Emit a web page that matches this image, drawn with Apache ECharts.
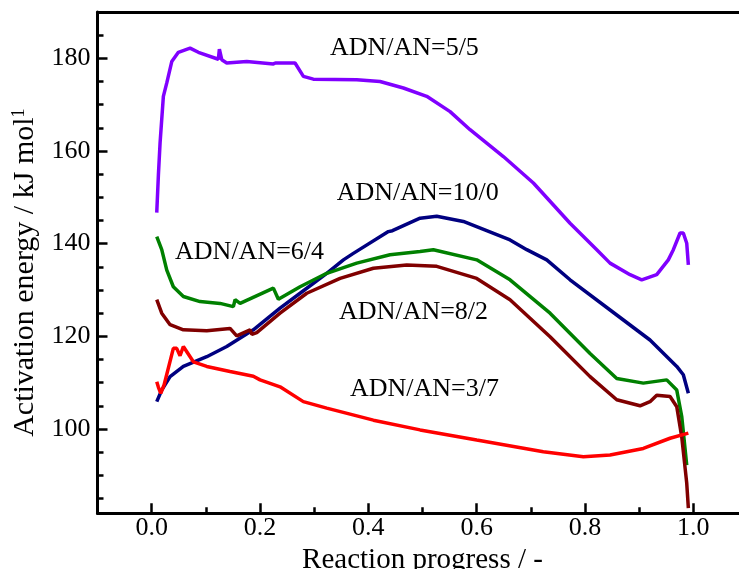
<!DOCTYPE html>
<html>
<head>
<meta charset="utf-8">
<script src="https://cdn.jsdelivr.net/npm/echarts@6/dist/echarts.min.js"></script>
<style>html,body{margin:0;padding:0;background:#fff}#c{width:739px;height:569px}</style>
</head>
<body>
<div id="c"></div>
<script>
// ---- data (x = reaction progress, y = activation energy kJ/mol) ----
const xMajorTicks = [0, 0.2, 0.4, 0.6, 0.8, 1.0];
const xMinorTicks = [0.1, 0.3, 0.5, 0.7, 0.9];
const yMajorTicks = [100, 120, 140, 160, 180];
const yMinorTicks = [85, 90, 95, 105, 110, 115, 125, 130, 135, 145, 150, 155, 165, 170, 175, 185];

const seriesNames = ['ADN/AN=5/5', 'ADN/AN=10/0', 'ADN/AN=6/4', 'ADN/AN=8/2', 'ADN/AN=3/7'];

const adn55 = [[0.0094,146.7],[0.0125,155],[0.0155,161.7],[0.0216,171.8],[0.0279,174.7],[0.0371,179.3],[0.0493,181.3],[0.0709,182.2],[0.0862,181.3],[0.1231,179.8],[0.125,182.0],[0.1294,179.7],[0.1386,179.0],[0.1756,179.3],[0.2247,178.8],[0.2284,179.0],[0.2647,179.0],[0.2801,176.1],[0.2985,175.5],[0.3786,175.4],[0.4216,175.0],[0.4647,173.6],[0.5078,171.8],[0.5509,168.5],[0.5878,164.6],[0.6493,158.8],[0.7047,153.1],[0.7724,144.4],[0.8217,138.7],[0.8462,135.8],[0.8832,133.3],[0.9047,132.2],[0.9324,133.3],[0.9538,136.5],[0.9631,138.7],[0.9755,142.3],[0.9815,142.3],[0.9878,140.1],[0.9908,135.4]];

const adn100 = [[0.0094,105.9],[0.0186,108.4],[0.034,111.3],[0.0585,113.5],[0.1017,115.6],[0.1386,117.8],[0.1877,121.4],[0.237,126.1],[0.274,129.3],[0.3232,133.6],[0.354,136.5],[0.3723,137.9],[0.437,142.6],[0.4445,142.8],[0.4955,145.5],[0.5263,145.9],[0.5754,144.8],[0.6616,140.8],[0.6925,138.7],[0.7294,136.5],[0.7724,132.2],[0.8586,124.6],[0.92,119.2],[0.9694,113.5],[0.9815,111.7],[0.9908,107.7]];

const adn64 = [[0.0094,141.5],[0.0186,138.7],[0.0279,134.3],[0.04,130.7],[0.0585,128.6],[0.0893,127.5],[0.1263,127.1],[0.1508,126.4],[0.154,127.9],[0.1632,127.1],[0.2247,130.4],[0.2339,128.0],[0.274,130.7],[0.3232,133.6],[0.3786,135.8],[0.44,137.6],[0.4955,138.3],[0.52,138.7],[0.6001,136.5],[0.6616,132.2],[0.7355,125.0],[0.8093,116.3],[0.8586,110.9],[0.9077,109.9],[0.9509,110.6],[0.9694,108.4],[0.9786,102.7],[0.9878,92.2]];

const adn82 = [[0.0094,127.9],[0.0186,125.0],[0.034,122.5],[0.0585,121.4],[0.1017,121.2],[0.1447,121.7],[0.157,120.1],[0.1817,121.4],[0.185,120.4],[0.194,120.8],[0.237,125.0],[0.2863,129.3],[0.3478,132.5],[0.4093,134.7],[0.4709,135.4],[0.5263,135.1],[0.6001,132.5],[0.6616,127.9],[0.7355,119.9],[0.8093,111.3],[0.8586,106.3],[0.9016,105.0],[0.92,105.9],[0.9324,107.3],[0.957,107.0],[0.9694,104.8],[0.9786,98.3],[0.9878,88.3],[0.9908,82.9]];

const adn37 = [[0.0094,110.2],[0.0125,109.0],[0.0168,107.7],[0.0229,109.5],[0.04,117.4],[0.0462,117.4],[0.0524,115.8],[0.0585,117.8],[0.077,114.5],[0.1017,113.5],[0.1447,112.4],[0.1877,111.4],[0.2001,110.6],[0.237,109.1],[0.28,105.9],[0.3232,104.5],[0.4093,101.9],[0.4955,99.8],[0.6001,97.6],[0.7231,95.1],[0.797,94.0],[0.8462,94.4],[0.9077,95.8],[0.957,98.0],[0.9908,99.1]];

// annotation anchor points (data coordinates)
const labelX = [0.329, 0.3417, 0.0432, 0.346, 0.366];
const labelY = [182.2, 151.0, 138.2, 125.3, 108.6];

const colors = ['#8000ff', '#000080', '#008000', '#800000', '#ff0000'];
const seriesData = [adn55, adn100, adn64, adn82, adn37];

const FONT = 'Liberation Serif, Times New Roman, serif';
const chart = echarts.init(document.getElementById('c'), null, {renderer: 'canvas'});

const lineSeries = seriesData.map((d, i) => ({
  name: seriesNames[i],
  type: 'line',
  data: d,
  showSymbol: false,
  symbol: 'none',
  smooth: false,
  lineStyle: {color: colors[i], width: 3.5},
  z: 3
}));

const labelSeries = {
  type: 'scatter',
  symbolSize: 0,
  silent: true,
  data: seriesNames.map((n, i) => ({value: [labelX[i], labelY[i]], name: n})),
  label: {
    show: true,
    position: 'right',
    distance: 0,
    formatter: p => p.name,
    fontFamily: FONT,
    fontSize: 26,
    color: '#000',
    opacity: 1
  },
  itemStyle: {opacity: 1},
  z: 4
};

chart.setOption({
  backgroundColor: '#fff',
  animation: false,
  grid: {left: 97.5, top: 12, width: 650, height: 501.3, containLabel: false, outerBoundsMode: 'none'},
  xAxis: [
    {
      type: 'value', min: -0.1, max: 1.1, position: 'bottom',
      name: 'Reaction progress / -', nameLocation: 'middle', nameGap: 22,
      nameTextStyle: {fontFamily: FONT, fontSize: 29, color: '#000'},
      axisLine: {show: true, onZero: false, lineStyle: {color: '#000', width: 3}},
      axisTick: {show: true, inside: true, length: 10, lineStyle: {color: '#000', width: 2.5}, customValues: xMajorTicks},
      axisLabel: {show: true, margin: 2, fontFamily: FONT, fontSize: 26, color: '#000', customValues: xMajorTicks, formatter: v => v.toFixed(1)},
      splitLine: {show: false}
    },
    {
      type: 'value', min: -0.1, max: 1.1, position: 'bottom',
      axisLine: {show: false, onZero: false},
      axisTick: {show: true, inside: true, length: 6, lineStyle: {color: '#000', width: 2.5}, customValues: xMinorTicks},
      axisLabel: {show: false},
      splitLine: {show: false}
    },
    {
      type: 'value', min: -0.1, max: 1.1, position: 'top',
      axisLine: {show: true, onZero: false, lineStyle: {color: '#000', width: 3}},
      axisTick: {show: false}, axisLabel: {show: false}, splitLine: {show: false}
    }
  ],
  yAxis: [
    {
      type: 'value', min: 81.8, max: 190, position: 'left',
      name: 'Activation energy / kJ mol{s|1}', nameLocation: 'middle', nameGap: 52,
      nameTextStyle: {fontFamily: FONT, fontSize: 30, color: '#000', padding: [0, 20, 0, 0],
        rich: {s: {fontFamily: FONT, fontSize: 18, color: '#000', verticalAlign: 'bottom', padding: [0, 0, 12, 0]}}},
      axisLine: {show: true, onZero: false, lineStyle: {color: '#000', width: 3}},
      axisTick: {show: true, inside: true, length: 10, lineStyle: {color: '#000', width: 2.5}, customValues: yMajorTicks},
      axisLabel: {show: true, margin: 7, fontFamily: FONT, fontSize: 26, color: '#000', customValues: yMajorTicks},
      splitLine: {show: false}
    },
    {
      type: 'value', min: 81.8, max: 190, position: 'left',
      axisLine: {show: false, onZero: false},
      axisTick: {show: true, inside: true, length: 6, lineStyle: {color: '#000', width: 2.5}, customValues: yMinorTicks},
      axisLabel: {show: false},
      splitLine: {show: false}
    }
  ],
  series: [...lineSeries, labelSeries]
});
</script>
</body>
</html>
